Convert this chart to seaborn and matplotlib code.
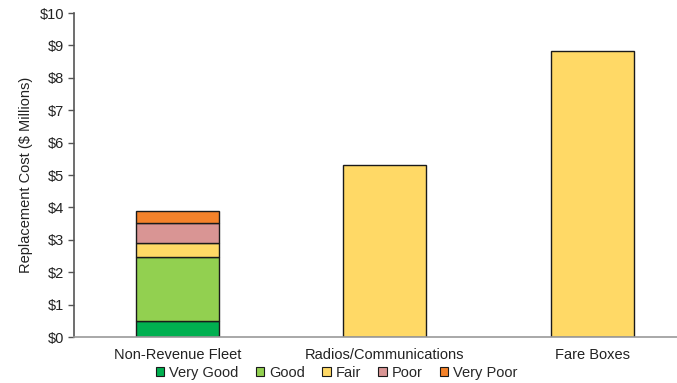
import numpy as np
import pandas as pd
import matplotlib
matplotlib.use("Agg")
import matplotlib.pyplot as plt
import seaborn as sns
from matplotlib.patches import Patch

categories = ["Non-Revenue Fleet", "Radios/Communications", "Fare Boxes"]
conditions = ["Very Good", "Good", "Fair", "Poor", "Very Poor"]
very_good = [0.50, 0.0, 0.0]
good = [1.96, 0.0, 0.0]
fair = [0.43, 5.31, 8.83]
poor = [0.63, 0.0, 0.0]
very_poor = [0.37, 0.0, 0.0]
colors = ["#00B050", "#92D050", "#FFD966", "#D99594", "#F4822A"]
yticks = [0, 1, 2, 3, 4, 5, 6, 7, 8, 9, 10]
ytick_labels = ["$" + str(v) for v in yticks]

sns.set_theme(style="white")
plt.rcParams["font.family"] = ["Liberation Sans", "DejaVu Sans"]

fig = plt.figure(figsize=(6.77, 3.83), dpi=100)
ax = fig.add_axes([0.109, 0.12, 0.919, 0.846])

layers = [very_good, good, fair, poor, very_poor]
base = np.zeros(len(categories))
for name, vals, col in zip(conditions, layers, colors):
    vals = np.array(vals)
    keep = vals > 0
    df = pd.DataFrame({"category": np.array(categories)[keep], "value": vals[keep]})
    sns.barplot(data=df, x="category", y="value", order=categories, color=col,
                width=0.4, bottom=base[keep], edgecolor="#1a1a1a", linewidth=1.0,
                saturation=1, ax=ax)
    base = base + vals

ax.set_xlim(-0.5, 2.5)
ax.set_ylim(0, 10)
ax.set_yticks(yticks)
ax.set_yticklabels(ytick_labels, fontsize=10.5, color="#222222")
ax.set_xticks(range(len(categories)))
ax.set_xticklabels(categories, fontsize=10.5, color="#222222")
ax.set_xlabel("")
ax.set_ylabel("Replacement Cost ($ Millions)", fontsize=10.5, color="#222222", labelpad=5)
ax.tick_params(axis="y", which="both", left=True, length=4, width=1, color="#555555", pad=3)
ax.tick_params(axis="x", bottom=False, pad=2)
for side in ["top", "right"]:
    ax.spines[side].set_visible(False)
ax.spines["left"].set_color("#555555")
ax.spines["left"].set_linewidth(1.2)
ax.spines["bottom"].set_color("#999999")
ax.spines["bottom"].set_linewidth(1.2)

handles = [Patch(facecolor=c, edgecolor="#1a1a1a", linewidth=0.8, label=n)
           for n, c in zip(conditions, colors)]
fig.legend(handles=handles, loc="center", bbox_to_anchor=(0.497, 0.027),
           ncol=5, frameon=False, fontsize=10.5, handlelength=0.6, handleheight=0.6,
           handletextpad=0.3, columnspacing=1.2, borderpad=0)

fig.savefig("out.png", dpi=100)
